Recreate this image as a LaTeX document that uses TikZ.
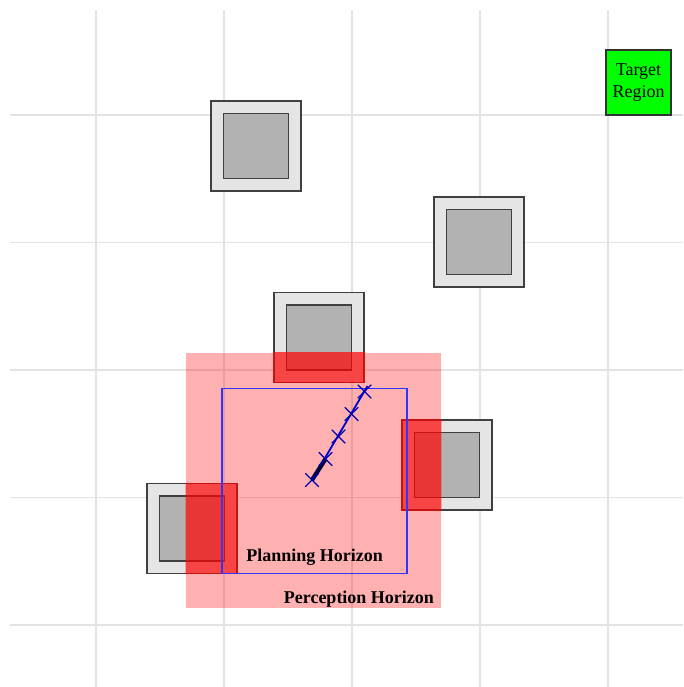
\documentclass[tikz,border=0pt]{standalone}
\usepackage{fontspec}
\setmainfont{Liberation Serif}
\usetikzlibrary{shapes.misc, positioning}

\begin{document}
\begin{tikzpicture}[
    x=0.015625cm, y=-0.015625cm,
    font=\fontsize{8}{9.5}\selectfont,
    gridline/.style={draw=gray!22, line width=0.5pt},
    obstacle/.style={rectangle, draw=black!75, fill=gray!20, line width=0.65pt, minimum size=1.406cm, inner sep=0pt},
    core/.style={rectangle, draw=black!75, fill=gray!60, line width=0.65pt, minimum size=1.016cm, inner sep=0pt},
    hit/.style={fill=red, fill opacity=0.7},
    perception/.style={rectangle, fill=red, fill opacity=0.31, minimum size=3.984cm, inner sep=0pt},
    planning/.style={rectangle, draw=blue!80, line width=0.5pt, minimum size=2.891cm, inner sep=0pt},
    waypoint/.style={cross out, draw=blue!70!black, line width=0.6pt, minimum size=0.19cm, inner sep=0pt},
    target/.style={rectangle, draw=black!80, fill=green, line width=0.5pt, minimum size=1.016cm, inner sep=0pt, align=center},
    horizonlabel/.style={font=\fontsize{8}{9.5}\selectfont\bfseries, inner sep=0pt}
]

% Frame
\useasboundingbox (0,0) rectangle (683,687);

% Grid
\foreach \gx in {96,224,352,480,608}
    \draw[gridline] (\gx,10) -- (\gx,687);
\foreach \gy in {115,242.5,370,497.5,625}
    \draw[gridline] (10,\gy) -- (683,\gy);

% Perception horizon
\node[perception] (perc) at (313.5,480.5) {};

% Obstacles
\foreach \name/\cx/\cy in {obsA/256/146, obsB/479/242, obsC/319/337.5, obsD/447/465, obsE/192/528.5} {
    \node[obstacle] (\name) at (\cx,\cy) {};
    \node[core] at (\name) {};
}

% Obstacles seen inside the perception horizon
\begin{scope}
    \clip (perc.south west) rectangle (perc.north east);
    \foreach \name in {obsC, obsD, obsE}
        \fill[hit] (\name.south west) rectangle (\name.north east);
\end{scope}

% Planning horizon
\node[planning] (plan) at (314.5,481) {};

% Trajectory
\coordinate (t0) at (312,480);
\coordinate (t1) at (325.5,459);
\coordinate (t2) at (338.5,436.5);
\coordinate (t3) at (351.5,414);
\coordinate (t4) at (364.5,391.5);
\coordinate (tend) at (367.5,386);
\draw[blue!80!black, line width=0.8pt] (t0) -- (tend);
\draw[blue!25!black, line width=1.9pt] (t0) -- (t1);
\foreach \t in {t0,t1,t2,t3,t4}
    \node[waypoint] at (\t) {};

% Labels
\node[horizonlabel, above=0.12cm of plan.south] (planlbl) {Planning Horizon};
\node[horizonlabel, above left=0.01cm and 0.11cm of perc.south east] (perclbl) {Perception Horizon};

% Goal
\node[target] (goal) at (638.5,82.5) {Target\\Region};

\end{tikzpicture}
\end{document}
